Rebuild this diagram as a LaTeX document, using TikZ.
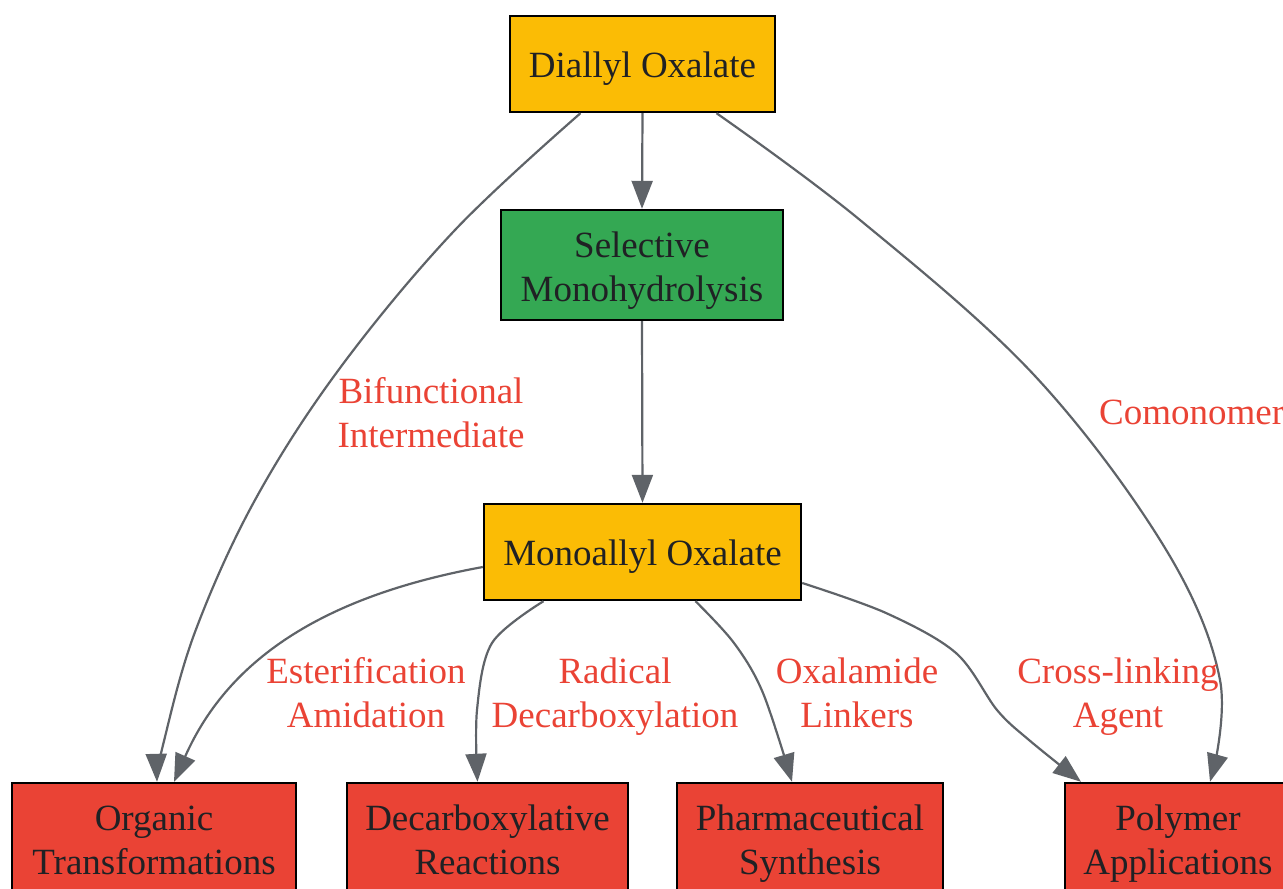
\documentclass[tikz,border=0pt]{standalone}
\usepackage{fontspec}
\setmainfont{Liberation Serif}
\usetikzlibrary{arrows.meta}
\definecolor{gyellow}{HTML}{FBBC05}
\definecolor{ggreen}{HTML}{34A853}
\definecolor{gred}{HTML}{EA4335}
\definecolor{ggray}{HTML}{5F6368}
\definecolor{gtext}{HTML}{202124}
\newcommand\placetext[2]{\raisebox{#1}[0pt][0pt]{\begin{tabular}[t]{@{}c@{}}#2\end{tabular}}}
\tikzset{
  box/.style={draw=black, line width=2.4pt, text=gtext, inner sep=0pt,
    font=\fontsize{37}{44}\selectfont},
  lbl/.style={text=gred, inner sep=0pt, font=\fontsize{37}{44}\selectfont},
  edge/.style={draw=ggray, line width=2.2pt, -{Triangle[length=28pt,width=21pt]}},
}
\begin{document}
\begin{tikzpicture}[x=1pt,y=-1pt]
\useasboundingbox (0,0) rectangle (1283,889);
\node[box, fill=gyellow, minimum width=265pt, minimum height=96pt] (dial) at (642.5,64) {\placetext{-13pt}{Diallyl Oxalate}};
\node[box, fill=ggreen, minimum width=282pt, minimum height=110pt] (sel) at (642,265) {\placetext{7.5pt}{Selective\\Monohydrolysis}};
\node[box, fill=gyellow, minimum width=317pt, minimum height=96pt] (mono) at (642.5,552) {\placetext{-13pt}{Monoallyl Oxalate}};
\node[box, fill=gred, minimum width=284pt, minimum height=110pt] (org) at (154,838) {\placetext{7.5pt}{Organic\\Transformations}};
\node[box, fill=gred, minimum width=281pt, minimum height=110pt] (dec) at (487.5,838) {\placetext{7.5pt}{Decarboxylative\\Reactions}};
\node[box, fill=gred, minimum width=266pt, minimum height=110pt] (pha) at (810,838) {\placetext{7.5pt}{Pharmaceutical\\Synthesis}};
\node[box, fill=gred, minimum width=226pt, minimum height=110pt] (pol) at (1178,838) {\placetext{7.5pt}{Polymer\\Applications}};

\draw[edge] (dial.south) -- (sel.north);
\draw[edge] (sel.south) -- (mono.north);

\draw[edge] plot[smooth, tension=0.6] coordinates {([xshift=-62pt]dial.south) (455,230) (340,368) (255,500) (195,632) (163,745) ([xshift=3pt]org.north)};
\draw[edge] plot[smooth, tension=0.6] coordinates {([xshift=74pt]dial.south) (860,220) (1035,376) (1165,548) (1220,680) ([xshift=32pt]pol.north)};
\draw[edge] ([yshift=-15pt]mono.west) .. controls (330,595) and (230,655) .. ([xshift=20pt]org.north);
\draw[edge] plot[smooth, tension=0.55] coordinates {([xshift=-99pt]mono.south) (492,643) (477,710) ([xshift=-10pt]dec.north)};
\draw[edge] plot[smooth, tension=0.55] coordinates {([xshift=53pt]mono.south) (734,643) (763,693) ([xshift=-18pt]pha.north)};
\draw[edge] plot[smooth, tension=0.55] coordinates {([yshift=-31pt]mono.east) (886,613) (956,653) (997,710) (1029,740) ([xshift=-97pt]pol.north)};

\node[lbl] (l1) at (431,403.5) {\placetext{0pt}{Bifunctional\\Intermediate}};
\node[lbl, anchor=base west] (l2) at (1099,424.5) {Comonomer};
\node[lbl] (l3) at (366,683.5) {\placetext{0pt}{Esterification\\Amidation}};
\node[lbl] (l4) at (615,683.5) {\placetext{0pt}{Radical\\Decarboxylation}};
\node[lbl] (l5) at (857,683.5) {\placetext{0pt}{Oxalamide\\Linkers}};
\node[lbl] (l6) at (1118,683.5) {\placetext{0pt}{Cross-linking\\Agent}};
\end{tikzpicture}
\end{document}
